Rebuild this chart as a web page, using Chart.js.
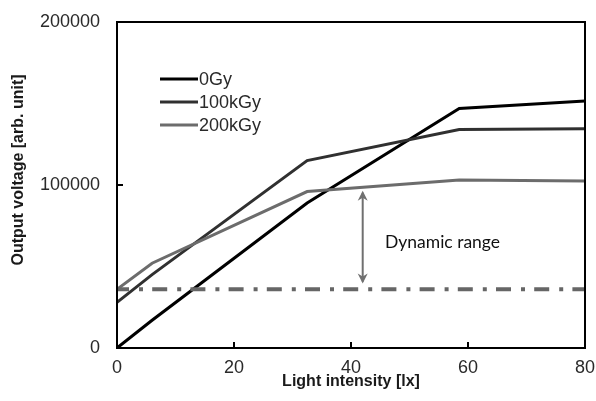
<!DOCTYPE html>
<html>
<head>
<meta charset="utf-8">
<script src="https://cdn.jsdelivr.net/npm/chart.js"></script>
<style>
  html, body { margin: 0; padding: 0; background: #fff; }
  #wrap { width: 596px; height: 401px; position: relative; }
</style>
</head>
<body>
<div id="wrap"><canvas id="chart"></canvas></div>
<script>
// light intensity [lx] at each measured point
const lux = [0, 6, 32.5, 58.5, 80];

// output voltage [arb. unit]
const v0Gy   = [0, 17000, 89000, 147000, 151500];
const v100kGy = [28000, 45000, 115000, 134000, 134500];
const v200kGy = [36000, 52000, 96000, 103000, 102500];

const seriesNames = ['0Gy', '100kGy', '200kGy'];
const seriesColors = ['#000000', '#303030', '#6c6c6c'];

const xTicks = [0, 20, 40, 60, 80];
const yTicks = [0, 100000, 200000];

// noise floor (dash-dot) and the dynamic range arrow
const floorLevel = 36000;
const arrowAt = [42, 96500, 39500]; // x, top, bottom

const toPoints = (ys) => ys.map((y, i) => ({ x: lux[i], y: y }));

const tickFont = { family: "'Liberation Sans', Arial, sans-serif", size: 18 };

// --- frame, inward ticks, titles, legend, arrow ---
const decorations = {
    id: 'decorations',
    afterDatasetsDraw(chart) {
        const { ctx, chartArea: { left, right, top, bottom } } = chart;
        const xs = chart.scales.x, ys = chart.scales.y;
        ctx.save();

        // arrow
        const ax = xs.getPixelForValue(arrowAt[0]);
        const at = ys.getPixelForValue(arrowAt[1]);
        const ab = ys.getPixelForValue(arrowAt[2]);
        ctx.strokeStyle = '#707070';
        ctx.fillStyle = '#707070';
        ctx.lineWidth = 2;
        ctx.beginPath();
        ctx.moveTo(ax, at + 2);
        ctx.lineTo(ax, ab - 2);
        ctx.stroke();
        ctx.beginPath();
        ctx.moveTo(ax, at);
        ctx.lineTo(ax - 5, at + 10);
        ctx.lineTo(ax, at + 7);
        ctx.lineTo(ax + 5, at + 10);
        ctx.closePath();
        ctx.fill();
        ctx.beginPath();
        ctx.moveTo(ax, ab);
        ctx.lineTo(ax - 5, ab - 10);
        ctx.lineTo(ax, ab - 7);
        ctx.lineTo(ax + 5, ab - 10);
        ctx.closePath();
        ctx.fill();

        ctx.fillStyle = '#111';
        ctx.font = '17.5px Lato, "Open Sans", sans-serif';
        ctx.textAlign = 'left';
        ctx.textBaseline = 'middle';
        ctx.fillText('Dynamic range', 385, 242);

        // frame
        ctx.strokeStyle = '#000';
        ctx.lineWidth = 2;
        ctx.strokeRect(left, top, right - left, bottom - top);

        // inward ticks
        ctx.beginPath();
        xTicks.forEach(v => {
            const px = Math.round(xs.getPixelForValue(v));
            ctx.moveTo(px, bottom);
            ctx.lineTo(px, bottom - 6);
        });
        yTicks.forEach(v => {
            const py = Math.round(ys.getPixelForValue(v));
            ctx.moveTo(left, py);
            ctx.lineTo(left + 6, py);
        });
        ctx.stroke();

        // axis titles
        ctx.fillStyle = '#1a1a1a';
        ctx.font = "bold 16px 'Liberation Sans', Arial, sans-serif";
        ctx.textAlign = 'center';
        ctx.fillText('Light intensity [lx]', (left + right) / 2, 382);
        ctx.save();
        ctx.translate(19, 170);
        ctx.rotate(-Math.PI / 2);
        ctx.fillText('Output voltage [arb. unit]', 0, 0);
        ctx.restore();

        // legend
        ctx.font = "18px 'Liberation Sans', Arial, sans-serif";
        ctx.textAlign = 'left';
        seriesNames.forEach((name, i) => {
            const y = 79 + i * 23;
            ctx.strokeStyle = seriesColors[i];
            ctx.lineWidth = 3;
            ctx.beginPath();
            ctx.moveTo(160, y);
            ctx.lineTo(198, y);
            ctx.stroke();
            ctx.fillStyle = '#2a2a2a';
            ctx.fillText(name, 199, y + 1);
        });

        ctx.restore();
    }
};

const lineSet = (label, ys, color) => ({
    label: label,
    data: toPoints(ys),
    borderColor: color,
    borderWidth: 3,
    pointRadius: 0,
    tension: 0,
    fill: false
});

new Chart(document.getElementById('chart').getContext('2d'), {
    type: 'line',
    data: {
        datasets: [
            {
                label: 'floor',
                data: [{ x: 0, y: floorLevel }, { x: 80, y: floorLevel }],
                borderColor: '#666666',
                borderWidth: 4,
                borderDash: [15, 10, 4, 9.2],
                borderDashOffset: 3,
                pointRadius: 0,
                fill: false
            },
            lineSet(seriesNames[2], v200kGy, seriesColors[2]),
            lineSet(seriesNames[1], v100kGy, seriesColors[1]),
            lineSet(seriesNames[0], v0Gy, seriesColors[0])
        ]
    },
    options: {
        responsive: true,
        maintainAspectRatio: false,
        animation: false,
        layout: { padding: { left: 0, right: 11, top: 22, bottom: 0 } },
        plugins: {
            legend: { display: false },
            tooltip: { enabled: false }
        },
        scales: {
            x: {
                type: 'linear',
                min: 0, max: 80,
                afterBuildTicks: (s) => { s.ticks = xTicks.map(v => ({ value: v })); },
                afterFit: (s) => { s.height = 53; s.paddingLeft = 0; s.paddingRight = 0; },
                grid: { display: false, drawTicks: false },
                border: { display: false },
                ticks: {
                    padding: 9,
                    maxRotation: 0,
                    color: '#2a2a2a',
                    font: tickFont,
                    callback: (v) => String(v)
                }
            },
            y: {
                type: 'linear',
                min: 0, max: 200000,
                afterBuildTicks: (s) => { s.ticks = yTicks.map(v => ({ value: v })); },
                afterFit: (s) => { s.width = 117; s.paddingTop = 0; s.paddingBottom = 0; },
                grid: { display: false, drawTicks: false },
                border: { display: false },
                ticks: {
                    padding: 17,
                    color: '#2a2a2a',
                    font: tickFont,
                    callback: (v) => String(v)
                }
            }
        }
    },
    plugins: [decorations]
});
</script>
</body>
</html>
